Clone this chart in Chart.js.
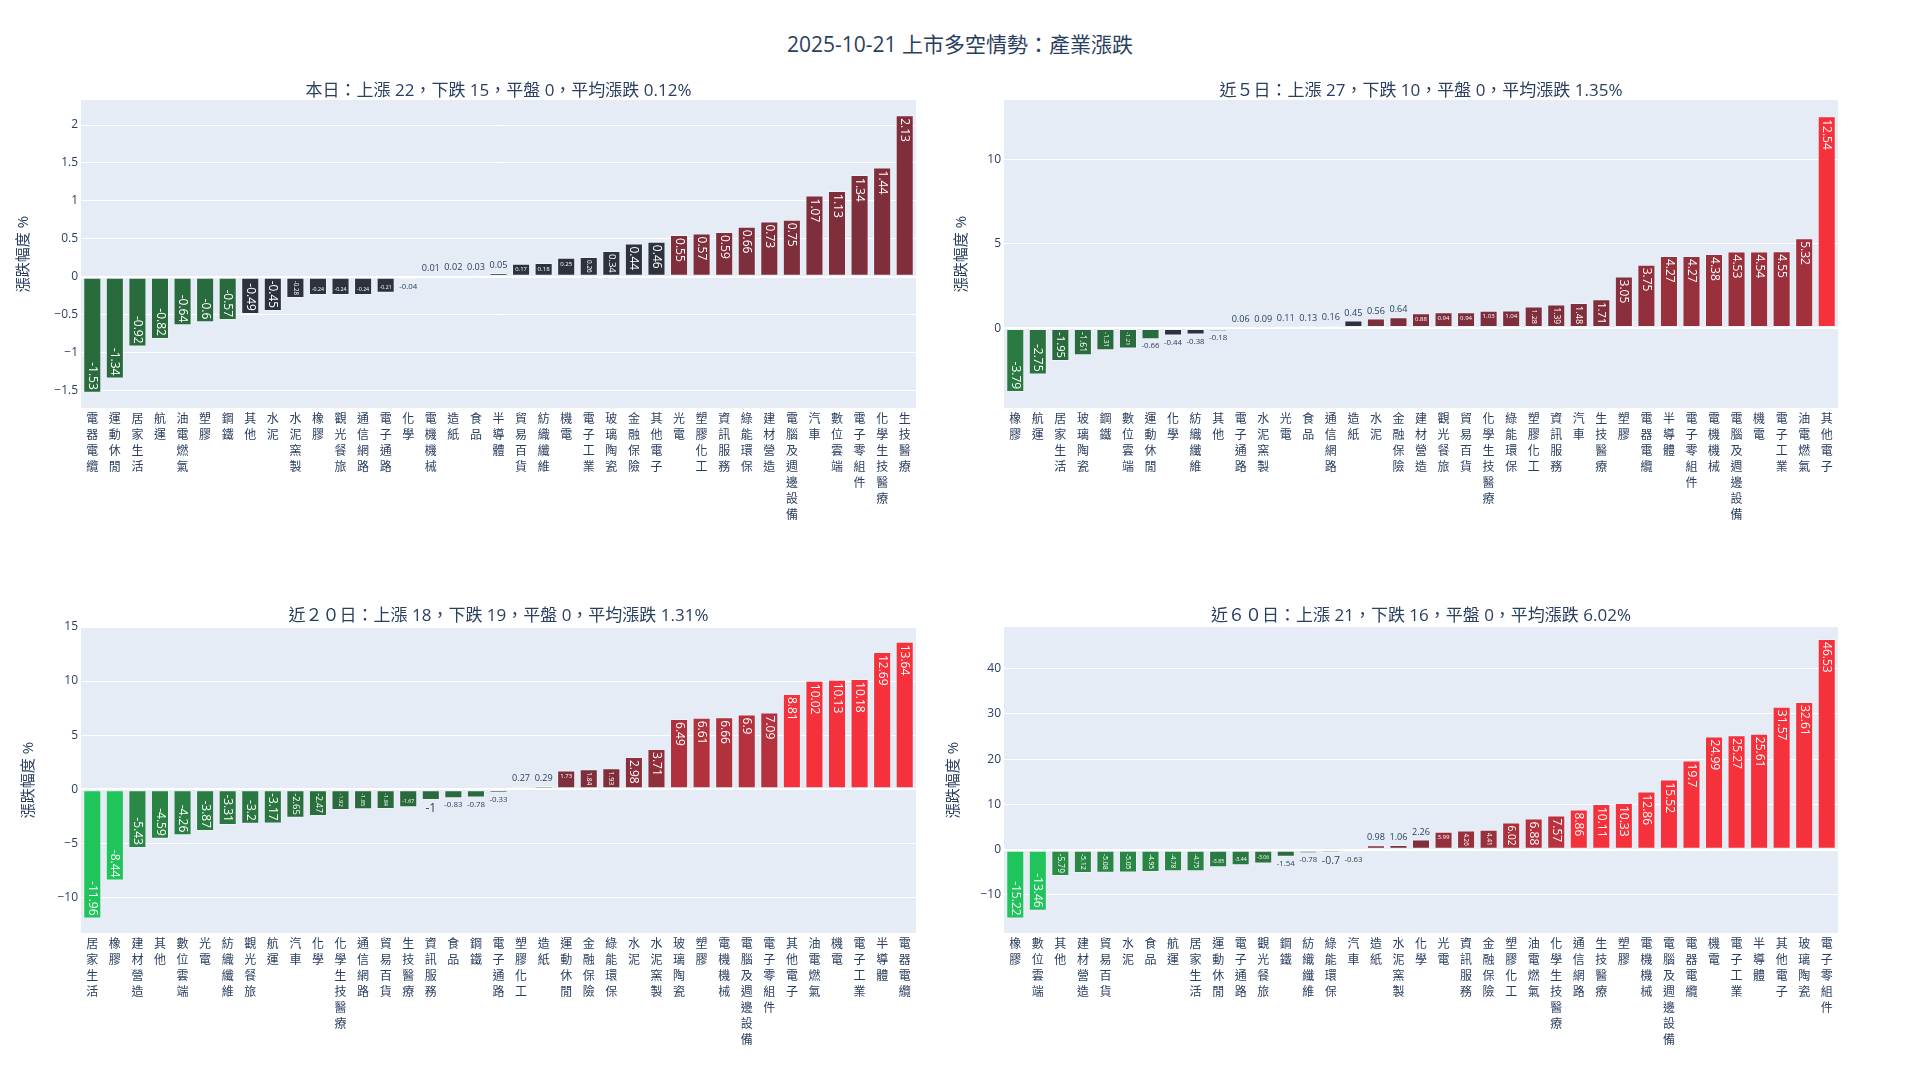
<!DOCTYPE html>
<html>
<head>
<meta charset="utf-8">
<script src="https://cdn.jsdelivr.net/npm/chart.js@4.4.1/dist/chart.umd.min.js"></script>
<style>
  body { margin: 0; background: #fff; width: 1920px; height: 1080px; overflow: hidden; position: relative;
         font-family: "Open Sans", "Noto Sans CJK TC", sans-serif; color: #2a3f5f; }
  .ttl { position: absolute; white-space: nowrap; transform: translate(-50%, -50%); }
  canvas { position: absolute; }
</style>
</head>
<body>
<div class="ttl" style="left:960px;top:43px;font-size:21px">2025-10-21 上市多空情勢：產業漲跌</div>
<script>
  // ---- data ----
  const dayLabels = ["電器電纜", "運動休閒", "居家生活", "航運", "油電燃氣", "塑膠", "鋼鐵", "其他", "水泥", "水泥窯製",
    "橡膠", "觀光餐旅", "通信網路", "電子通路", "化學", "電機機械", "造紙", "食品", "半導體", "貿易百貨",
    "紡織纖維", "機電", "電子工業", "玻璃陶瓷", "金融保險", "其他電子", "光電", "塑膠化工", "資訊服務", "綠能環保",
    "建材營造", "電腦及週邊設備", "汽車", "數位雲端", "電子零組件", "化學生技醫療", "生技醫療"];
  const dayValues = [-1.53, -1.34, -0.92, -0.82, -0.64, -0.6, -0.57, -0.49, -0.45, -0.28,
    -0.24, -0.24, -0.24, -0.21, -0.04, 0.01, 0.02, 0.03, 0.05, 0.17,
    0.18, 0.25, 0.26, 0.34, 0.44, 0.46, 0.55, 0.57, 0.59, 0.66,
    0.73, 0.75, 1.07, 1.13, 1.34, 1.44, 2.13];

  const d5Labels = ["橡膠", "航運", "居家生活", "玻璃陶瓷", "鋼鐵", "數位雲端", "運動休閒", "化學", "紡織纖維", "其他",
    "電子通路", "水泥窯製", "光電", "食品", "通信網路", "造紙", "水泥", "金融保險", "建材營造", "觀光餐旅",
    "貿易百貨", "化學生技醫療", "綠能環保", "塑膠化工", "資訊服務", "汽車", "生技醫療", "塑膠", "電器電纜", "半導體",
    "電子零組件", "電機機械", "電腦及週邊設備", "機電", "電子工業", "油電燃氣", "其他電子"];
  const d5Values = [-3.79, -2.75, -1.95, -1.61, -1.31, -1.21, -0.66, -0.44, -0.38, -0.18,
    0.06, 0.09, 0.11, 0.13, 0.16, 0.45, 0.56, 0.64, 0.88, 0.94,
    0.94, 1.03, 1.04, 1.28, 1.39, 1.48, 1.71, 3.05, 3.75, 4.27,
    4.27, 4.38, 4.53, 4.54, 4.55, 5.32, 12.54];

  const d20Labels = ["居家生活", "橡膠", "建材營造", "其他", "數位雲端", "光電", "紡織纖維", "觀光餐旅", "航運", "汽車",
    "化學", "化學生技醫療", "通信網路", "貿易百貨", "生技醫療", "資訊服務", "食品", "鋼鐵", "電子通路", "塑膠化工",
    "造紙", "運動休閒", "金融保險", "綠能環保", "水泥", "水泥窯製", "玻璃陶瓷", "塑膠", "電機機械", "電腦及週邊設備",
    "電子零組件", "其他電子", "油電燃氣", "機電", "電子工業", "半導體", "電器電纜"];
  const d20Values = [-11.96, -8.44, -5.43, -4.59, -4.26, -3.87, -3.31, -3.2, -3.17, -2.65,
    -2.47, -1.92, -1.85, -1.84, -1.67, -1, -0.83, -0.78, -0.33, 0.27,
    0.29, 1.73, 1.84, 1.93, 2.98, 3.71, 6.49, 6.61, 6.66, 6.9,
    7.09, 8.81, 10.02, 10.13, 10.18, 12.69, 13.64];

  const d60Labels = ["橡膠", "數位雲端", "其他", "建材營造", "貿易百貨", "水泥", "食品", "航運", "居家生活", "運動休閒",
    "電子通路", "觀光餐旅", "鋼鐵", "紡織纖維", "綠能環保", "汽車", "造紙", "水泥窯製", "化學", "光電",
    "資訊服務", "金融保險", "塑膠化工", "油電燃氣", "化學生技醫療", "通信網路", "生技醫療", "塑膠", "電機機械", "電腦及週邊設備",
    "電器電纜", "機電", "電子工業", "半導體", "其他電子", "玻璃陶瓷", "電子零組件"];
  const d60Values = [-15.22, -13.46, -5.79, -5.12, -5.08, -5.05, -4.95, -4.78, -4.75, -3.85,
    -3.44, -3.06, -1.54, -0.78, -0.7, -0.63, 0.98, 1.06, 2.26, 3.99,
    4.26, 4.41, 6.02, 6.88, 7.57, 8.86, 10.11, 10.33, 12.86, 15.52,
    19.7, 24.99, 25.27, 25.61, 31.57, 32.61, 46.53];

  const panelTitles = [
    "本日：上漲 22，下跌 15，平盤 0，平均漲跌 0.12%",
    "近５日：上漲 27，下跌 10，平盤 0，平均漲跌 1.35%",
    "近２０日：上漲 18，下跌 19，平盤 0，平均漲跌 1.31%",
    "近６０日：上漲 21，下跌 16，平盤 0，平均漲跌 6.02%"
  ];
  const yTitle = "漲跌幅度 %";

  // ---- styling ----
  const fontFamily = '"Open Sans", "Noto Sans CJK TC", sans-serif';
  const textColor = "#2a3f5f";
  const plotBgColor = "#E5ECF6";
  const grayBar = "#2d323d";
  const reds = { dark: [127, 46, 59], mid: [192, 50, 62], bright: "#f5313c" };
  const greens = { dark: [42, 107, 61], mid: [42, 160, 76], bright: "#1fc45a" };
  const PAD = 3;
  const X_AXIS_H = 125;
  const TOP_GAP = 14;

  function mix(a, b, t) {
    const c = a.map((v, i) => Math.round(v + (b[i] - v) * t));
    return `rgb(${c[0]},${c[1]},${c[2]})`;
  }

  function barColor(v) {
    const a = Math.abs(v);
    if (a < 0.5) return grayBar;
    const pal = v > 0 ? reds : greens;
    if (a >= 8) return pal.bright;
    const t = Math.max(0, Math.min(1, (a - 2) / 6));
    return mix(pal.dark, pal.mid, t);
  }

  const plotBg = {
    id: "plotBg",
    beforeDraw(chart) {
      const { ctx, chartArea: a } = chart;
      ctx.save();
      ctx.fillStyle = plotBgColor;
      ctx.fillRect(a.left, a.top, a.right - a.left, a.bottom - a.top);
      ctx.restore();
    }
  };

  // bar value labels, roughly like plotly's textposition "auto"
  const barText = {
    id: "barText",
    afterDatasetsDraw(chart) {
      const ctx = chart.ctx;
      const vals = chart.data.datasets[0].data;
      chart.getDatasetMeta(0).data.forEach((bar, i) => {
        const v = vals[i];
        const txt = String(v);
        const bw = bar.width;
        const top = Math.min(bar.y, bar.base);
        const bot = Math.max(bar.y, bar.base);
        const len = bot - top;
        ctx.save();
        ctx.font = `12px ${fontFamily}`;
        const tw = ctx.measureText(txt).width;
        const th = 12;
        ctx.textAlign = "center";
        ctx.textBaseline = "middle";
        if (len >= 11.8) {
          const w = bw - 2 * PAD;
          const l = len - 2 * PAD;
          const sH = Math.min(1, w / tw, l / th);
          const sR = Math.min(1, l / tw, w / th);
          ctx.fillStyle = "#ffffff";
          if (sR > sH) {
            ctx.font = `${12 * sR}px ${fontFamily}`;
            const tl = tw * sR;
            const cy = v >= 0 ? top + PAD + tl / 2 : bot - PAD - tl / 2;
            ctx.translate(bar.x, cy);
            ctx.rotate(Math.PI / 2);
            ctx.fillText(txt, 0, 0);
          } else {
            ctx.font = `${12 * sH}px ${fontFamily}`;
            const h = th * sH;
            const cy = v >= 0 ? top + PAD + h / 2 : bot - PAD - h / 2;
            ctx.fillText(txt, bar.x, cy);
          }
        } else {
          const s = Math.min(1, bw / tw);
          ctx.font = `${12 * s}px ${fontFamily}`;
          ctx.fillStyle = textColor;
          const h = th * s;
          const cy = v >= 0 ? top - PAD - h / 2 : bot + PAD + h / 2;
          ctx.fillText(txt, bar.x, cy);
        }
        ctx.restore();
      });
    }
  };

  function fmtTick(value) {
    const r = Math.round(value * 100) / 100;
    return (r < 0 ? "\u2212" : "") + String(Math.abs(r));
  }

  function buildPanel(p) {
    const canvas = document.createElement("canvas");
    canvas.width = p.width;
    canvas.height = TOP_GAP + p.plotH + X_AXIS_H;
    canvas.style.left = p.left + "px";
    canvas.style.top = (p.top - TOP_GAP) + "px";
    document.body.appendChild(canvas);

    const t = document.createElement("div");
    t.className = "ttl";
    t.style.left = p.titleX + "px";
    t.style.top = p.titleY + "px";
    t.style.fontSize = "17px";
    t.textContent = p.title;
    document.body.appendChild(t);

    new Chart(canvas.getContext("2d"), {
      type: "bar",
      data: {
        labels: p.labels.map((s) => Array.from(s)),
        datasets: [{
          data: p.values,
          backgroundColor: p.values.map(barColor),
          borderColor: "rgba(255,255,255,0.35)",
          borderWidth: 1,
          borderSkipped: false,
          categoryPercentage: 1,
          barPercentage: 0.8
        }]
      },
      options: {
        responsive: false,
        animation: false,
        devicePixelRatio: 1,
        layout: { padding: { left: p.padL, right: p.padR, top: TOP_GAP, bottom: 0 } },
        plugins: { legend: { display: false }, tooltip: { enabled: false } },
        scales: {
          x: {
            grid: { display: false },
            border: { display: false },
            ticks: {
              color: textColor,
              font: { family: fontFamily, size: 12, lineHeight: 1.33 },
              padding: -4,
              maxRotation: 0,
              minRotation: 0,
              autoSkip: false
            },
            afterFit(scale) {
              scale.height = X_AXIS_H;
              scale.paddingLeft = 0;
              scale.paddingRight = 0;
            }
          },
          y: {
            min: p.min,
            max: p.max,
            grid: {
              color: "#ffffff",
              lineWidth: (c) => (c.tick && c.tick.value === 0 ? 2 : 1),
              drawTicks: false
            },
            border: { display: false },
            ticks: {
              stepSize: p.step,
              includeBounds: false,
              color: textColor,
              font: { family: fontFamily, size: 12 },
              padding: 3,
              callback: fmtTick
            },
            title: {
              display: true,
              text: yTitle,
              color: textColor,
              font: { family: fontFamily, size: 15 },
              padding: { top: 3, bottom: 0 }
            },
            afterFit(scale) {
              scale.width = p.yW;
              scale.paddingTop = 0;
              scale.paddingBottom = 0;
            }
          }
        }
      },
      plugins: [plotBg, barText]
    });
  }

  const panels = [
    { labels: dayLabels, values: dayValues, title: panelTitles[0], left: 0, top: 100, width: 920, plotH: 308,
      padL: 12, yW: 69, padR: 4, min: -1.73, max: 2.33, step: 0.5, titleX: 498.5, titleY: 88 },
    { labels: d5Labels, values: d5Values, title: panelTitles[1], left: 923, top: 100, width: 920, plotH: 308,
      padL: 27, yW: 54, padR: 5, min: -4.73, max: 13.5, step: 5, titleX: 1421, titleY: 88 },
    { labels: d20Labels, values: d20Values, title: panelTitles[2], left: 0, top: 627, width: 920, plotH: 306,
      padL: 17, yW: 64, padR: 4, min: -13.3, max: 15, step: 5, titleX: 498.5, titleY: 613 },
    { labels: d60Labels, values: d60Values, title: panelTitles[3], left: 923, top: 627, width: 920, plotH: 306,
      padL: 19, yW: 62, padR: 5, min: -18.4, max: 49.2, step: 10, titleX: 1421, titleY: 613 }
  ];

  panels.forEach(buildPanel);
</script>
</body>
</html>
